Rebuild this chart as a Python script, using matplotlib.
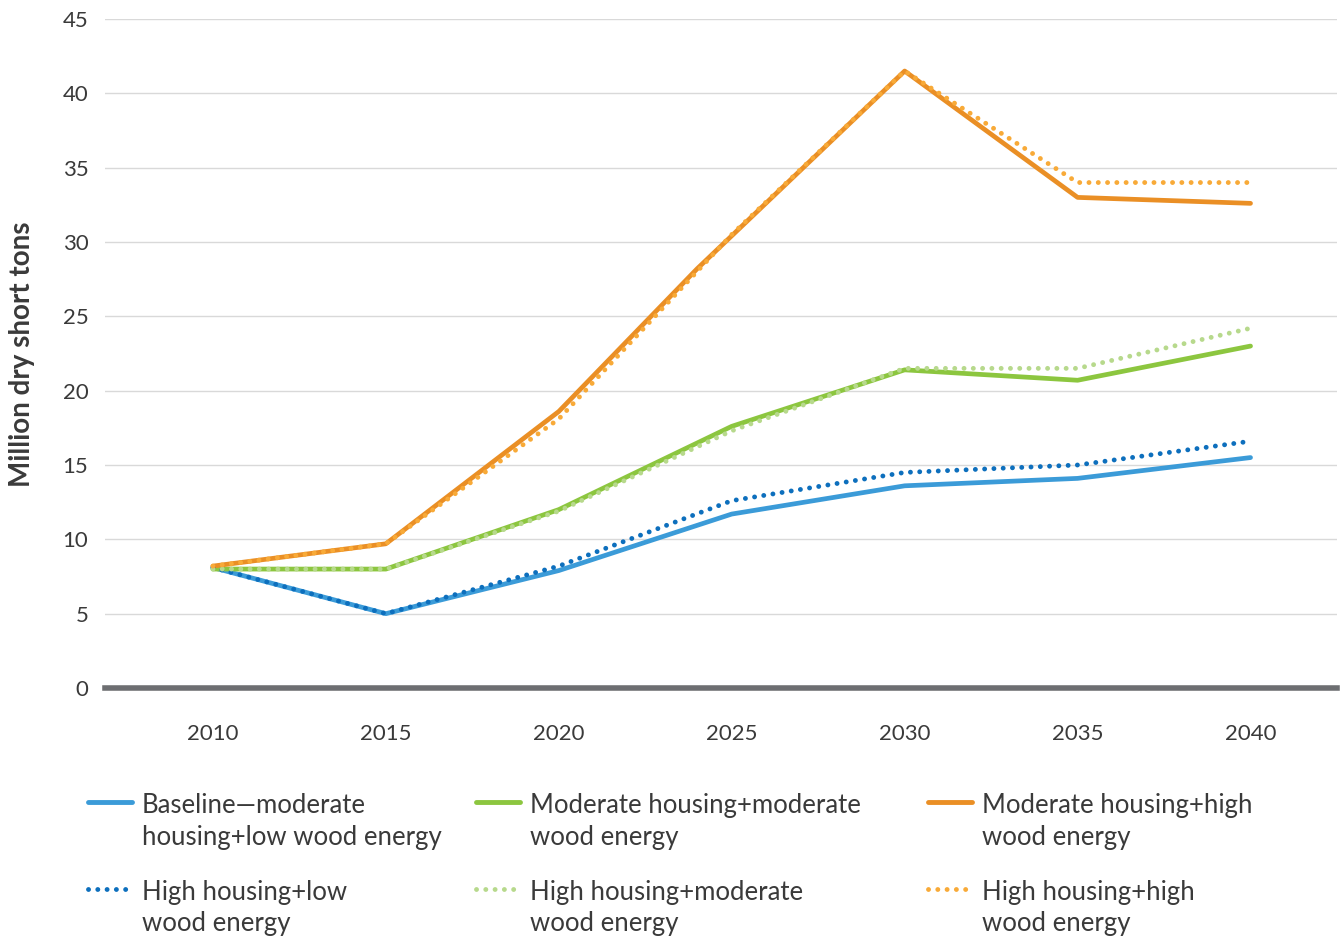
import numpy as np
import matplotlib
matplotlib.use("Agg")
import matplotlib.pyplot as plt
from matplotlib.lines import Line2D

plt.rcParams['font.family'] = ['Lato', 'DejaVu Sans']

# data (million dry short tons)
years = [2010, 2015, 2020, 2025, 2030, 2035, 2040]
base_mod_low = [8.1, 5.0, 7.9, 11.7, 13.6, 14.1, 15.5]
high_low = [8.1, 5.0, 8.2, 12.6, 14.5, 15.0, 16.6]
mod_mod = [8.0, 8.0, 12.0, 17.6, 21.4, 20.7, 23.0]
high_mod = [8.0, 8.0, 11.9, 17.3, 21.5, 21.5, 24.2]
years_mod_high = [2010, 2015, 2020, 2024, 2030, 2035, 2040]
mod_high = [8.2, 9.7, 18.6, 28.2, 41.5, 33.0, 32.6]
high_high = [8.2, 9.7, 18.1, 30.5, 41.5, 34.0, 34.0]

labels = [
    ["Baseline\u2014moderate", "housing+low wood energy"],
    ["Moderate housing+moderate", "wood energy"],
    ["Moderate housing+high", "wood energy"],
    ["High housing+low", "wood energy"],
    ["High housing+moderate", "wood energy"],
    ["High housing+high", "wood energy"],
]
colors = ['#3b9bd8', '#8cc63f', '#ea8f25', '#0d6fbd', '#b7d98c', '#f8aa38']
dotted = (0, (0.01, 1.9))

fig = plt.figure(figsize=(13.4, 9.38), dpi=100)
ax = fig.add_axes([105 / 1340, 1 - 688 / 938, 1232 / 1340, 669 / 938])

ax.plot(years, base_mod_low, color=colors[0], lw=3.4, solid_capstyle='round', zorder=3)
ax.plot(years, high_low, color=colors[3], lw=3.5, ls=dotted, dash_capstyle='round', zorder=4)
ax.plot(years, mod_mod, color=colors[1], lw=3.4, solid_capstyle='round', zorder=3)
ax.plot(years, high_mod, color=colors[4], lw=3.5, ls=dotted, dash_capstyle='round', zorder=4)
ax.plot(years_mod_high, mod_high, color=colors[2], lw=3.4, solid_capstyle='round', zorder=3)
ax.plot(years, high_high, color=colors[5], lw=3.5, ls=dotted, dash_capstyle='round', zorder=4)

ax.set_xlim(2006.88, 2042.5)
ax.set_ylim(0, 45)
ax.set_xticks(years)
ax.set_yticks(np.arange(0, 46, 5))
ax.grid(axis='y', color='#d9d9d9', lw=1.0)
ax.set_axisbelow(True)
for s in ax.spines.values():
    s.set_visible(False)
ax.axhline(0, color='#6d6e71', lw=4, zorder=5, clip_on=False)
ax.tick_params(axis='x', length=0, pad=26, labelsize=16, labelcolor='#3a3a3a')
ax.tick_params(axis='y', length=0, pad=12, labelsize=16, labelcolor='#3a3a3a')

fig.text(22 / 1340, 1 - 354 / 938, "Million dry short tons", rotation=90,
         ha='center', va='center', fontsize=20, fontweight='bold', color='#3a3a3a')

# legend, laid out as in the reference: 3 columns x 2 rows
col_x = [88, 476, 928]
row_handle_y = [802, 889]
row_base_y = [[813, 845], [900, 931]]
styles = ['-', '-', '-', dotted, dotted, dotted]
for i, lab in enumerate(labels):
    c, r = i % 3, i // 3
    x0 = col_x[c]
    yh = 1 - row_handle_y[r] / 938
    fig.add_artist(Line2D([x0 / 1340, (x0 + 44) / 1340], [yh, yh], transform=fig.transFigure,
                          color=colors[i], lw=3.5, ls=styles[i],
                          solid_capstyle='round', dash_capstyle='round'))
    for j, line in enumerate(lab):
        fig.text((x0 + 54) / 1340, 1 - row_base_y[r][j] / 938, line, ha='left', va='baseline',
                 fontsize=18.5, color='#3a3a3a')

fig.savefig('out.png', dpi=100)
